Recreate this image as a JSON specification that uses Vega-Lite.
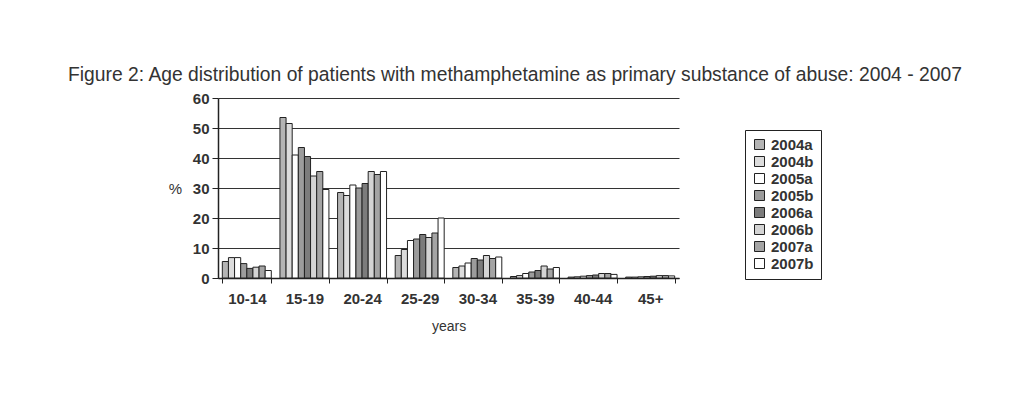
{
  "$schema": "https://vega.github.io/schema/vega-lite/v6.json",
  "autosize": "none",
  "width": 461,
  "height": 180,
  "padding": {"left": 218, "top": 98, "right": 345, "bottom": 136},
  "background": "white",
  "title": {
    "text": "Figure 2: Age distribution of patients with methamphetamine as primary substance of abuse: 2004 - 2007",
    "anchor": "start",
    "frame": "group",
    "dx": -150,
    "offset": 6,
    "font": "Liberation Sans",
    "fontSize": 19.3,
    "fontWeight": "normal",
    "color": "#333333"
  },
  "data": {
    "values": [
      {"age": "10-14", "series": "2004a", "pct": 5.5},
      {"age": "10-14", "series": "2004b", "pct": 6.8},
      {"age": "10-14", "series": "2005a", "pct": 6.8},
      {"age": "10-14", "series": "2005b", "pct": 4.8},
      {"age": "10-14", "series": "2006a", "pct": 3.2},
      {"age": "10-14", "series": "2006b", "pct": 3.6},
      {"age": "10-14", "series": "2007a", "pct": 4.0},
      {"age": "10-14", "series": "2007b", "pct": 2.5},
      {"age": "15-19", "series": "2004a", "pct": 53.5},
      {"age": "15-19", "series": "2004b", "pct": 51.5},
      {"age": "15-19", "series": "2005a", "pct": 41},
      {"age": "15-19", "series": "2005b", "pct": 43.5},
      {"age": "15-19", "series": "2006a", "pct": 40.5},
      {"age": "15-19", "series": "2006b", "pct": 34},
      {"age": "15-19", "series": "2007a", "pct": 35.5},
      {"age": "15-19", "series": "2007b", "pct": 29.5},
      {"age": "20-24", "series": "2004a", "pct": 28.5},
      {"age": "20-24", "series": "2004b", "pct": 27.5},
      {"age": "20-24", "series": "2005a", "pct": 31},
      {"age": "20-24", "series": "2005b", "pct": 30},
      {"age": "20-24", "series": "2006a", "pct": 31.5},
      {"age": "20-24", "series": "2006b", "pct": 35.5},
      {"age": "20-24", "series": "2007a", "pct": 34.5},
      {"age": "20-24", "series": "2007b", "pct": 35.5},
      {"age": "25-29", "series": "2004a", "pct": 7.5},
      {"age": "25-29", "series": "2004b", "pct": 9.5},
      {"age": "25-29", "series": "2005a", "pct": 12.5},
      {"age": "25-29", "series": "2005b", "pct": 13},
      {"age": "25-29", "series": "2006a", "pct": 14.5},
      {"age": "25-29", "series": "2006b", "pct": 13.5},
      {"age": "25-29", "series": "2007a", "pct": 15},
      {"age": "25-29", "series": "2007b", "pct": 20},
      {"age": "30-34", "series": "2004a", "pct": 3.5},
      {"age": "30-34", "series": "2004b", "pct": 4},
      {"age": "30-34", "series": "2005a", "pct": 5},
      {"age": "30-34", "series": "2005b", "pct": 6.5},
      {"age": "30-34", "series": "2006a", "pct": 6},
      {"age": "30-34", "series": "2006b", "pct": 7.5},
      {"age": "30-34", "series": "2007a", "pct": 6.5},
      {"age": "30-34", "series": "2007b", "pct": 7},
      {"age": "35-39", "series": "2004a", "pct": 0.5},
      {"age": "35-39", "series": "2004b", "pct": 0.8},
      {"age": "35-39", "series": "2005a", "pct": 1.5},
      {"age": "35-39", "series": "2005b", "pct": 2},
      {"age": "35-39", "series": "2006a", "pct": 2.5},
      {"age": "35-39", "series": "2006b", "pct": 4},
      {"age": "35-39", "series": "2007a", "pct": 3},
      {"age": "35-39", "series": "2007b", "pct": 3.5},
      {"age": "40-44", "series": "2004a", "pct": 0.3},
      {"age": "40-44", "series": "2004b", "pct": 0.4},
      {"age": "40-44", "series": "2005a", "pct": 0.6},
      {"age": "40-44", "series": "2005b", "pct": 0.8},
      {"age": "40-44", "series": "2006a", "pct": 1},
      {"age": "40-44", "series": "2006b", "pct": 1.5},
      {"age": "40-44", "series": "2007a", "pct": 1.5},
      {"age": "40-44", "series": "2007b", "pct": 1.2},
      {"age": "45+", "series": "2004a", "pct": 0.3},
      {"age": "45+", "series": "2004b", "pct": 0.3},
      {"age": "45+", "series": "2005a", "pct": 0.4},
      {"age": "45+", "series": "2005b", "pct": 0.5},
      {"age": "45+", "series": "2006a", "pct": 0.6},
      {"age": "45+", "series": "2006b", "pct": 0.8},
      {"age": "45+", "series": "2007a", "pct": 0.8},
      {"age": "45+", "series": "2007b", "pct": 0.7}
    ]
  },
  "mark": {"type": "bar", "stroke": "#222222", "strokeWidth": 1},
  "encoding": {
    "x": {
      "field": "age",
      "type": "nominal",
      "sort": null,
      "scale": {"paddingInner": 0.15, "paddingOuter": 0.075},
      "axis": {
        "title": "years",
        "labelAngle": 0,
        "tickBand": "extent",
        "tickSize": 5,
        "tickColor": "#222222",
        "domainColor": "#222222",
        "labelPadding": 8,
        "labelFont": "Liberation Sans",
        "labelFontSize": 15,
        "labelFontWeight": "bold",
        "labelColor": "#333333",
        "titleFont": "Liberation Sans",
        "titleFontSize": 14,
        "titleFontWeight": "normal",
        "titleColor": "#333333",
        "titlePadding": 13
      }
    },
    "xOffset": {"field": "series", "type": "nominal", "scale": {"paddingInner": 0, "paddingOuter": 0}},
    "y": {
      "field": "pct",
      "type": "quantitative",
      "scale": {"domain": [0, 60], "nice": false},
      "axis": {
        "title": "%",
        "titleAngle": 0,
        "titleX": -43,
        "titleY": 90,
        "titleAlign": "center",
        "titleBaseline": "middle",
        "titleFont": "Liberation Sans",
        "titleFontSize": 15,
        "titleFontWeight": "normal",
        "titleColor": "#333333",
        "values": [0, 10, 20, 30, 40, 50, 60],
        "tickSize": 6,
        "tickColor": "#222222",
        "domainColor": "#222222",
        "labelPadding": 3,
        "labelFont": "Liberation Sans",
        "labelFontSize": 15,
        "labelFontWeight": "bold",
        "labelColor": "#333333",
        "grid": true,
        "gridColor": "#333333",
        "gridWidth": 1
      }
    },
    "fill": {
      "field": "series",
      "type": "nominal",
      "scale": {
        "domain": ["2004a", "2004b", "2005a", "2005b", "2006a", "2006b", "2007a", "2007b"],
        "range": ["#b4b4b4", "#dcdcdc", "#ffffff", "#9c9c9c", "#7c7c7c", "#d4d4d4", "#a4a4a4", "#ffffff"]
      },
      "legend": {
        "title": "\u00a0\u00a0",
        "titleOrient": "right",
        "titleFontSize": 15,
        "titlePadding": 0,
        "orient": "none",
        "legendX": 527,
        "legendY": 32,
        "symbolType": "square",
        "symbolSize": 100,
        "symbolStrokeColor": "#222222",
        "symbolStrokeWidth": 1,
        "labelFont": "Liberation Sans",
        "labelFontSize": 15,
        "labelFontWeight": "bold",
        "labelColor": "#333333",
        "labelOffset": 4,
        "rowPadding": 1,
        "padding": 7,
        "strokeColor": "#222222",
        "fillColor": "white"
      }
    }
  },
  "config": {
    "view": {"stroke": null},
    "axis": {"domainWidth": 1.5}
  }
}
